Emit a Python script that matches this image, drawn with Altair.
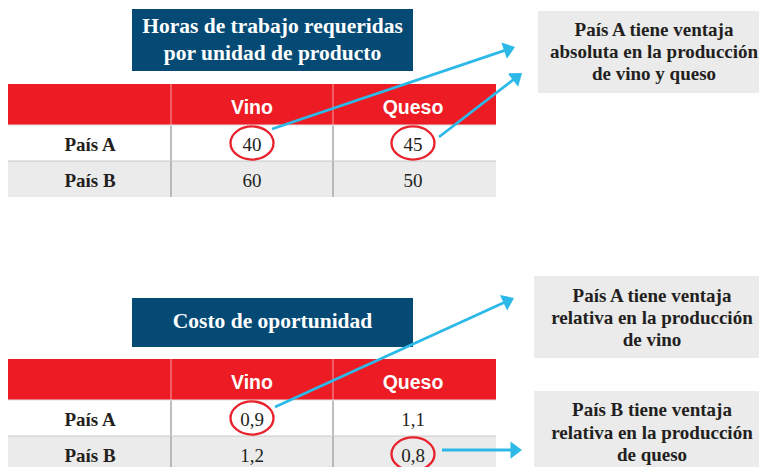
import math
import altair as alt
import pandas as pd

# ---------------- data ----------------
countries = ["País A", "País B"]
products = ["Vino", "Queso"]
hours_required = [[40, 45], [60, 50]]
opportunity_cost = [[0.9, 1.1], [1.2, 0.8]]
table_titles = [["Horas de trabajo requeridas", "por unidad de producto"],
                ["Costo de oportunidad"]]
conclusions = [
    ["País A tiene ventaja", "absoluta en la producción", "de vino y queso"],
    ["País A tiene ventaja", "relativa en la producción", "de vino"],
    ["País B tiene ventaja", "relativa en la producción", "de queso"],
]
circled_cells = [[(0, 0), (0, 1)], [(0, 0), (1, 1)]]  # (row, col) per table

# ---------------- layout (page pixels) ----------------
W, H = 751, 459
OX, OY = 8, 8
COL_EDGES = [8, 171, 333, 496]
COL_CENTERS = [90, 252, 413]
TABLE_TOP = [84, 359]
HEADER_H = 41
ROW_H = 36
TITLE_BOX = [(132, 413, 9, 71), (132, 413, 298, 347)]
TITLE_BASE = [[33, 60], [328]]
BOXES = [(538, 770, 11, 93), (534, 770, 276, 358), (534, 770, 391, 470)]
BOX_CX = [654, 652, 652]
BOX_BASE = [[36, 58, 80], [302, 324, 346], [416, 439, 461]]
ARROWS = [[((272, 129), (515, 47)), ((439, 137), (522, 73))],
          [((275, 407), (514, 298)), ((442, 450), (522, 450))]]

RED = "#ED1C24"
BLUE = "#054A75"
GRAY = "#EBEBEB"
DARK = "#231F20"
CYAN = "#2CB9E8"
SERIF = "Liberation Serif"
SANS = "Liberation Sans"

def fmt(v):
    s = f"{v:g}"
    return s.replace(".", ",")

tables = [hours_required, opportunity_cost]

rects, rules, heads, titles, labels, values, boxtext, ellipses = [], [], [], [], [], [], [], []

for t, data in enumerate(tables):
    top = TABLE_TOP[t]
    hb = top + HEADER_H
    x1, x2, y1, y2 = TITLE_BOX[t]
    rects.append(dict(x=x1, x2=x2, y=y1, y2=y2, c=BLUE))
    for line, yb in zip(table_titles[t], TITLE_BASE[t]):
        titles.append(dict(x=(x1 + x2) / 2, y=yb, t=line))
    rects.append(dict(x=COL_EDGES[0], x2=COL_EDGES[-1], y=top, y2=hb, c=RED))
    rects.append(dict(x=COL_EDGES[0], x2=COL_EDGES[-1], y=hb + ROW_H, y2=hb + 2 * ROW_H, c=GRAY))
    for j, p in enumerate(products):
        heads.append(dict(x=COL_CENTERS[j + 1], y=top + 29.5, t=p))
    for i, ctry in enumerate(countries):
        rt = hb + i * ROW_H
        labels.append(dict(x=COL_CENTERS[0], y=rt + 25.5, t=ctry))
        for j in range(len(products)):
            values.append(dict(x=COL_CENTERS[j + 1], y=rt + 25.5, t=fmt(data[i][j])))
    for (i, j) in circled_cells[t]:
        ellipses.append(dict(x=COL_CENTERS[j + 1], y=hb + i * ROW_H + 18))
    for xe in COL_EDGES[1:3]:
        rules.append(dict(x=xe, y=top, x2=xe, y2=hb, c="#F58A8E", w=1.2))
        rules.append(dict(x=xe, y=hb, x2=xe, y2=hb + 2 * ROW_H, c="#A7A9AC", w=1.5))
    rules.append(dict(x=COL_EDGES[0], y=hb + ROW_H, x2=COL_EDGES[-1], y2=hb + ROW_H, c="#C8C8C8", w=1))
    rules.append(dict(x=COL_EDGES[0], y=hb, x2=COL_EDGES[-1], y2=hb, c="#E0E0E0", w=1))

for k, (x1, x2, y1, y2) in enumerate(BOXES):
    rects.append(dict(x=x1, x2=x2, y=y1, y2=y2, c=GRAY))
    for line, yb in zip(conclusions[k], BOX_BASE[k]):
        boxtext.append(dict(x=BOX_CX[k], y=yb, t=line))

heads_pts = []
for tarrows in ARROWS:
    for (sx, sy), (ex, ey) in tarrows:
        dx, dy = ex - sx, ey - sy
        L = math.hypot(dx, dy)
        ux, uy = dx / L, dy / L
        rules.append(dict(x=sx, y=sy, x2=ex - 6 * ux, y2=ey - 6 * uy, c=CYAN, w=2.8))
        ang = math.degrees(math.atan2(dy, dx)) % 360
        heads_pts.append(dict(x=ex, y=ey, a=ang))

xs = alt.Scale(domain=[OX, OX + W], nice=False, zero=False)
ys = alt.Scale(domain=[OY, OY + H], nice=False, zero=False, reverse=True)
X = lambda f="x": alt.X(f"{f}:Q", scale=xs, axis=None)
Y = lambda f="y": alt.Y(f"{f}:Q", scale=ys, axis=None)

rect_layer = alt.Chart(pd.DataFrame(rects)).mark_rect().encode(
    x=X(), x2="x2:Q", y=Y(), y2="y2:Q", color=alt.Color("c:N", scale=None))

rule_layer = alt.Chart(pd.DataFrame(rules)).mark_rule().encode(
    x=X(), x2="x2:Q", y=Y(), y2="y2:Q",
    color=alt.Color("c:N", scale=None),
    strokeWidth=alt.StrokeWidth("w:Q", scale=None))

ELLIPSE = "M -1 0 A 1 0.77 0 1 1 1 0 A 1 0.77 0 1 1 -1 0 Z"
ell_layer = alt.Chart(pd.DataFrame(ellipses)).mark_point(
    shape=ELLIPSE, size=43 * 43, filled=False, stroke="#E8212A", strokeWidth=2.3, opacity=1
).encode(x=X(), y=Y())

TRI = "M 0 0 L -1 -0.75 L -1 0.75 Z"
head_layer = alt.Chart(pd.DataFrame(heads_pts)).mark_point(
    shape=TRI, size=529, filled=True, color=CYAN, opacity=1
).encode(x=X(), y=Y(), angle=alt.Angle("a:Q", scale=None))

def text_layer(rows, font, size, weight, color):
    return alt.Chart(pd.DataFrame(rows)).mark_text(
        font=font, fontSize=size, fontWeight=weight, color=color,
        align="center", baseline="alphabetic"
    ).encode(x=X(), y=Y(), text="t:N")

chart = alt.layer(
    rect_layer,
    rule_layer,
    text_layer(titles, SERIF, 21.5, "bold", "white"),
    text_layer(heads, SANS, 19.5, "bold", "white"),
    text_layer(labels, SERIF, 19, "bold", DARK),
    text_layer(values, SERIF, 19, "normal", DARK),
    text_layer(boxtext, SERIF, 19, "bold", DARK),
    ell_layer,
    head_layer,
).properties(
    width=W, height=H, padding=0, autosize="none", background="white"
).configure_view(stroke=None)

chart.save("out.html", embed_options={"renderer": "svg", "actions": False})
